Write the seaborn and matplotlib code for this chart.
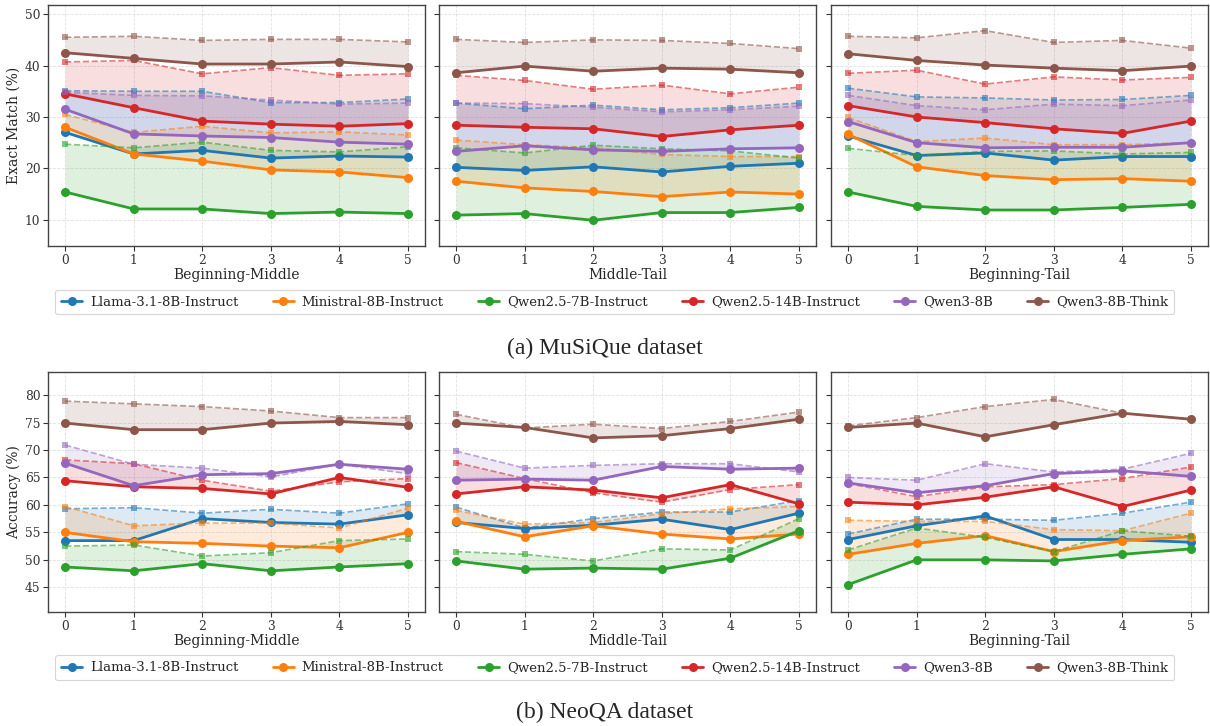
import matplotlib
matplotlib.use("Agg")
import matplotlib.pyplot as plt
import numpy as np
import pandas as pd
import seaborn as sns

# ---------------- data ----------------
models = ["Llama-3.1-8B-Instruct", "Ministral-8B-Instruct", "Qwen2.5-7B-Instruct",
          "Qwen2.5-14B-Instruct", "Qwen3-8B", "Qwen3-8B-Think"]
positions = [0, 1, 2, 3, 4, 5]
panel_names = ["Beginning-Middle", "Middle-Tail", "Beginning-Tail"]

# MuSiQue (Exact Match %), solid = main result, dashed = reference result
musique_bm_solid = [
    [27.0, 22.8, 23.5, 22.0, 22.4, 22.2],
    [28.0, 22.8, 21.4, 19.7, 19.3, 18.2],
    [15.4, 12.1, 12.1, 11.2, 11.5, 11.2],
    [34.5, 31.8, 29.2, 28.6, 28.2, 28.7],
    [31.5, 26.7, 26.3, 26.0, 25.1, 24.7],
    [42.5, 41.4, 40.3, 40.3, 40.7, 39.8]]
musique_bm_dashed = [
    [35.1, 35.0, 35.0, 32.8, 32.8, 33.5],
    [30.5, 27.0, 28.2, 26.9, 27.1, 26.5],
    [24.7, 24.0, 25.1, 23.5, 23.2, 24.2],
    [40.7, 41.0, 38.4, 39.6, 38.1, 38.4],
    [34.8, 34.2, 34.1, 33.3, 32.5, 32.7],
    [45.5, 45.7, 44.9, 45.1, 45.1, 44.6]]

musique_mt_solid = [
    [20.2, 19.6, 20.3, 19.3, 20.4, 21.0],
    [17.5, 16.2, 15.5, 14.5, 15.4, 15.0],
    [10.9, 11.2, 9.9, 11.4, 11.4, 12.4],
    [28.4, 28.0, 27.7, 26.2, 27.5, 28.4],
    [23.3, 24.4, 23.6, 23.3, 23.8, 24.0],
    [38.6, 39.9, 38.9, 39.5, 39.3, 38.6]]
musique_mt_dashed = [
    [32.7, 31.6, 32.3, 31.4, 31.8, 32.7],
    [25.5, 24.6, 24.0, 22.7, 22.3, 22.3],
    [24.0, 23.0, 24.5, 23.8, 23.4, 22.0],
    [38.1, 37.1, 35.4, 36.2, 34.5, 35.8],
    [32.7, 32.6, 31.9, 31.0, 31.4, 32.1],
    [45.1, 44.5, 45.0, 44.9, 44.3, 43.3]]

musique_bt_solid = [
    [26.3, 22.5, 23.0, 21.6, 22.3, 22.3],
    [26.6, 20.3, 18.6, 17.8, 18.0, 17.5],
    [15.4, 12.6, 11.9, 11.9, 12.4, 13.0],
    [32.2, 30.0, 28.9, 27.7, 26.8, 29.2],
    [29.1, 25.0, 24.0, 24.1, 24.1, 25.0],
    [42.3, 41.0, 40.1, 39.5, 39.0, 39.9]]
musique_bt_dashed = [
    [35.6, 33.9, 33.7, 33.3, 33.4, 34.2],
    [29.9, 25.2, 25.9, 24.6, 24.6, 25.0],
    [23.9, 22.5, 23.3, 23.4, 22.8, 23.1],
    [38.5, 39.1, 36.4, 37.8, 37.2, 37.7],
    [34.2, 32.2, 31.4, 32.5, 32.2, 33.3],
    [45.7, 45.4, 46.8, 44.5, 44.9, 43.4]]

# NeoQA (Accuracy %)
neoqa_bm_solid = [
    [53.5, 53.5, 57.5, 56.8, 56.5, 58.2],
    [55.0, 53.3, 53.0, 52.5, 52.2, 55.0],
    [48.7, 48.0, 49.3, 48.0, 48.7, 49.3],
    [64.4, 63.3, 63.0, 62.0, 65.0, 63.2],
    [67.6, 63.5, 65.5, 65.7, 67.4, 66.5],
    [74.9, 73.7, 73.7, 74.9, 75.2, 74.6]]
neoqa_bm_dashed = [
    [59.3, 59.5, 58.5, 59.2, 58.5, 60.2],
    [59.7, 56.2, 56.7, 56.7, 55.8, 59.4],
    [52.5, 52.7, 50.7, 51.3, 53.5, 53.8],
    [68.2, 67.5, 64.5, 62.5, 64.2, 64.8],
    [70.9, 67.4, 66.7, 65.1, 67.4, 65.7],
    [78.9, 78.4, 77.9, 77.1, 75.9, 75.9]]

neoqa_mt_solid = [
    [56.8, 55.7, 56.3, 57.4, 55.5, 58.5],
    [57.0, 54.2, 56.2, 54.7, 53.8, 54.7],
    [49.8, 48.3, 48.5, 48.3, 50.3, 55.3],
    [62.0, 63.3, 62.7, 61.3, 63.7, 60.2],
    [64.5, 64.7, 64.5, 67.0, 66.5, 66.7],
    [74.9, 74.1, 72.2, 72.6, 73.9, 75.6]]
neoqa_mt_dashed = [
    [59.6, 55.8, 57.5, 58.7, 58.7, 60.8],
    [59.0, 56.5, 56.8, 58.4, 59.3, 59.7],
    [51.5, 51.0, 49.8, 52.0, 51.8, 57.5],
    [67.7, 64.8, 62.2, 60.5, 62.8, 63.7],
    [69.8, 66.7, 67.2, 67.5, 67.5, 66.0],
    [76.5, 74.0, 74.7, 73.9, 75.2, 76.9]]

neoqa_bt_solid = [
    [53.7, 56.2, 58.0, 53.7, 53.7, 53.2],
    [51.0, 53.0, 54.4, 51.5, 53.5, 54.2],
    [45.5, 50.0, 50.0, 49.8, 51.0, 52.0],
    [60.5, 60.0, 61.4, 63.3, 59.7, 62.7],
    [64.0, 62.2, 63.5, 65.7, 66.2, 65.2],
    [74.1, 74.9, 72.4, 74.6, 76.7, 75.6]]
neoqa_bt_dashed = [
    [54.7, 57.4, 57.4, 57.2, 58.5, 60.5],
    [57.2, 57.0, 57.0, 55.5, 55.3, 58.5],
    [51.8, 55.8, 54.1, 51.5, 55.3, 54.3],
    [63.9, 61.5, 63.3, 63.7, 64.8, 66.9],
    [65.0, 64.5, 67.5, 66.0, 66.5, 69.4],
    [74.4, 75.9, 77.9, 79.2, 76.7, 75.6]]

rows = [
    {"ylabel": "Exact Match (%)", "caption": "(a) MuSiQue dataset",
     "panels": [(musique_bm_solid, musique_bm_dashed),
                (musique_mt_solid, musique_mt_dashed),
                (musique_bt_solid, musique_bt_dashed)]},
    {"ylabel": "Accuracy (%)", "caption": "(b) NeoQA dataset",
     "panels": [(neoqa_bm_solid, neoqa_bm_dashed),
                (neoqa_mt_solid, neoqa_mt_dashed),
                (neoqa_bt_solid, neoqa_bt_dashed)]},
]

# ---------------- style ----------------
sns.set_theme(style="whitegrid", rc={
    "axes.edgecolor": "#444444",
    "axes.linewidth": 1.0,
    "grid.color": "#d9d9d9",
    "grid.linestyle": "--",
    "grid.linewidth": 0.6,
    "xtick.bottom": True,
    "ytick.left": True,
    "xtick.major.size": 3.5,
    "ytick.major.size": 3.5,
    "xtick.major.width": 0.8,
    "ytick.major.width": 0.8,
    "xtick.color": "#333333",
    "ytick.color": "#333333",
})
plt.rcParams["font.family"] = ["DejaVu Serif"]

palette = sns.color_palette("tab10", 6)

fig = plt.figure(figsize=(12.1, 7.26), dpi=100)

lefts = [0.0397, 0.3628, 0.6868]
width = 0.3116
row_bottoms = [0.6612, 0.157]
row_heights = [0.332, 0.3306]
legend_y = [0.584, 0.080]
caption_y = [0.5207, 0.018]

for r, row in enumerate(rows):
    allvals = np.concatenate([np.ravel(s) for p in row["panels"] for s in p])
    ylo, yhi = allvals.min() - 5, allvals.max() + 5
    handles = []
    axes = []
    for c, (solid, dashed) in enumerate(row["panels"]):
        ax = fig.add_axes([lefts[c], row_bottoms[r], width, row_heights[r]])
        axes.append(ax)
        for i, m in enumerate(models):
            col = palette[i]
            ax.fill_between(positions, solid[i], dashed[i], color=col, alpha=0.15, linewidth=0)
            sns.lineplot(x=positions, y=dashed[i], ax=ax, color=col, linestyle="--",
                         linewidth=1.2, marker="s", markersize=4, markeredgewidth=0,
                         alpha=0.6, legend=False)
            sns.lineplot(x=positions, y=solid[i], ax=ax, color=col, linestyle="-",
                         linewidth=2.0, marker="o", markersize=6.5, markeredgewidth=0,
                         legend=False)
            if c == 0:
                handles.append(ax.lines[-1])
        ax.set_ylim(ylo, yhi)
        ax.set_xticks(positions)
        ax.set_xlabel(panel_names[c], fontsize=10, labelpad=1)
        ax.tick_params(axis="both", labelsize=8.8, pad=2)
        if c == 0:
            ax.set_ylabel(row["ylabel"], fontsize=10, labelpad=3)
        else:
            ax.set_ylabel("")
            ax.tick_params(labelleft=False)
        ax.grid(True, alpha=0.8)
        for s in ax.spines.values():
            s.set_color("#444444")
    if r == 0:
        for ax in axes:
            ax.set_yticks([10, 20, 30, 40, 50])
    else:
        for ax in axes:
            ax.set_yticks([45, 50, 55, 60, 65, 70, 75, 80])
    leg = fig.legend(handles, models, loc="center", bbox_to_anchor=(0.508, legend_y[r]),
                     ncol=6, fontsize=9.5, frameon=True, handlelength=1.6,
                     columnspacing=2.6, handletextpad=0.6, borderpad=0.45)
    leg.get_frame().set_edgecolor("#cccccc")
    leg.get_frame().set_linewidth(0.8)
    fig.text(0.5, caption_y[r], row["caption"], ha="center", va="center",
             fontsize=17, family=["Liberation Serif", "DejaVu Serif"])

fig.savefig("out.png", dpi=100)
